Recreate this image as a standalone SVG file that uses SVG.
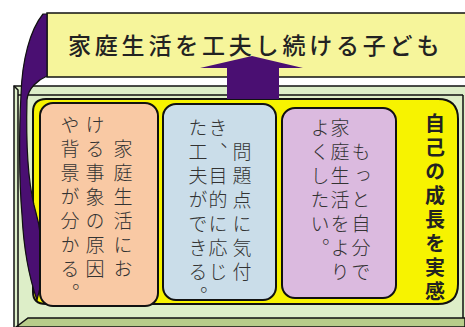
<svg xmlns="http://www.w3.org/2000/svg" width="465" height="327" viewBox="0 0 465 327">
<style>
.ln{fill:none;stroke:#111;stroke-width:1.5}
.bx{stroke:#111;stroke-width:2}
.vt{font-family:"Noto Sans CJK JP","Noto Sans CJK SC",sans-serif;font-size:19px;font-weight:300;fill:#333;writing-mode:vertical-rl;text-orientation:upright;letter-spacing:5px}
.vb{font-family:"Noto Sans CJK JP","Noto Sans CJK SC",sans-serif;font-size:20px;font-weight:700;fill:#222;writing-mode:vertical-rl;text-orientation:upright;letter-spacing:4px}
.ttl{font-family:"Noto Sans CJK JP","Noto Sans CJK SC",sans-serif;font-size:23px;font-weight:500;fill:#222;letter-spacing:3.8px}
.pp{fill:#4a0f72;stroke:#111;stroke-width:1.2}
</style>
<rect width="465" height="327" fill="#ffffff"/>
<g id="frame">
  <rect x="14" y="86" width="460" height="250" fill="#ddeec8" stroke="#111" stroke-width="1.5"/>
  <polygon points="16,327 28,318 465,318 465,327" fill="#b8cd8a" stroke="#111" stroke-width="1.5"/>
  <path class="ln" d="M18,95 H463 M463,95 V318 M14,86 L18,90 V327"/>
</g>
<g id="panel">
  <path d="M46,99 H438 Q458,99 458,119 V284 Q458,304 438,304 H46 Q33,304 33,292 V112 Q33,99 46,99 Z" fill="#f7f300" stroke="#111" stroke-width="2"/>
  <text class="vb" x="435" y="113">自己の成長を実感</text>
</g>
<g id="banner">
  <rect x="47" y="13" width="430" height="64" fill="#f6f59b" stroke="#111" stroke-width="1.5"/>
  <text class="ttl" x="68" y="54">家庭生活を工夫し続ける子ども</text>
</g>
<g id="connectors">
  <path class="pp" d="M47,14 L47,76 C38,80 28,88 27,100 C26,140 28,180 34,205 C40,225 44,250 42,280 L37,300 C30,280 24,255 22,215 C19,180 19,130 21,95 C22,60 30,30 43,14 Z"/>
  <path d="M227,99 V68 H200 L252,56 L303,68 H279 V99 Z" fill="#4a0f72"/>
</g>
<g id="box-orange">
  <rect class="bx" x="40" y="103" width="118" height="203" rx="13" fill="#f9c9a4"/>
  <text class="vt" x="123" y="139">家庭生活にお</text>
  <text class="vt" x="95" y="115">ける事象の原因</text>
  <text class="vt" x="70" y="115">や背景が分かる。</text>
</g>
<g id="box-blue">
  <rect class="bx" x="163" y="104" width="113" height="196" rx="13" fill="#cadde9"/>
  <text class="vt" x="242" y="142">問題点に気付</text>
  <text class="vt" x="218" y="118">き、目的に応じ</text>
  <text class="vt" x="198" y="118">た工夫ができる。</text>
</g>
<g id="box-purple">
  <rect class="bx" x="282" y="108" width="114" height="190" rx="13" fill="#dbbadf"/>
  <text class="vt" x="361" y="142">もっと自分で</text>
  <text class="vt" x="340" y="118">家庭生活をより</text>
  <text class="vt" x="320" y="118">よくしたい。</text>
</g>
</svg>
